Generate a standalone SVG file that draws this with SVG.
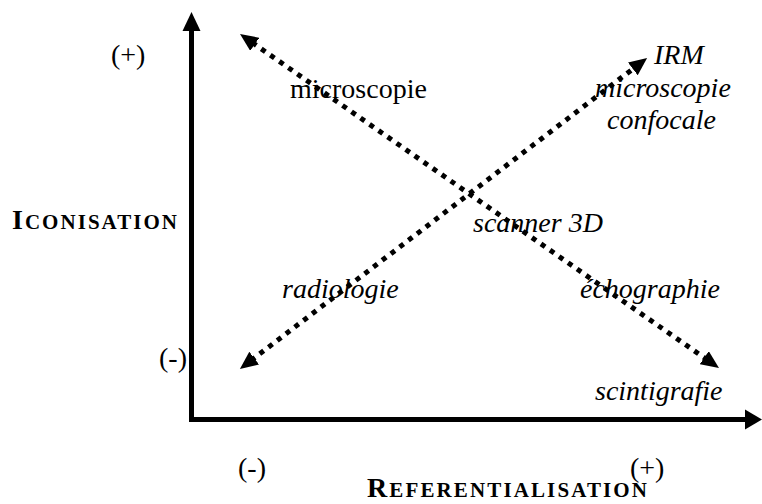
<svg xmlns="http://www.w3.org/2000/svg" width="762" height="504" viewBox="0 0 762 504">
  <style>
    text { font-family: 'Liberation Serif', 'Times New Roman', Times, serif; font-size: 28px; fill: #000; }
    .it { font-style: italic; }
    .b { font-weight: bold; }
    .sc { font-size: 21px; }
    .axis { stroke: #000; stroke-width: 5; fill: none; }
    .dot { stroke: #000; stroke-width: 5; stroke-dasharray: 5 6; fill: none; }
  </style>
  <defs>
    <marker id="dh" markerUnits="userSpaceOnUse" markerWidth="20" markerHeight="16" refX="4" refY="8" orient="auto-start-reverse">
      <path d="M0,0 L18,8 L0,16 Z" fill="#000"/>
    </marker>
  </defs>

  <g id="axes">
    <line class="axis" x1="191.5" y1="422" x2="191.5" y2="28"/>
    <path d="M191.5,12 L182.5,31 L200.5,31 Z" fill="#000"/>
    <line class="axis" x1="189" y1="419.5" x2="748" y2="419.5"/>
    <path d="M762,419.5 L745,409.5 L745,429.5 Z" fill="#000"/>
  </g>

  <g id="connectors">
    <line class="dot" x1="707.5" y1="360" x2="251.5" y2="42" marker-start="url(#dh)" marker-end="url(#dh)"/>
    <line class="dot" x1="251" y1="360.5" x2="636" y2="66.5" marker-start="url(#dh)" marker-end="url(#dh)"/>
  </g>

  <g id="n-plus-y"><text x="111" y="64">(+)</text></g>
  <g id="n-minus-y"><text x="159" y="367">(-)</text></g>
  <g id="n-minus-x"><text x="238" y="477">(-)</text></g>
  <g id="n-plus-x"><text x="630" y="477">(+)</text></g>

  <g id="n-iconisation">
    <text class="b" x="12" y="229" textLength="165" lengthAdjust="spacing">I<tspan class="sc">CONISATION</tspan></text>
  </g>
  <g id="n-referentialisation">
    <text class="b" x="367" y="497" textLength="280" lengthAdjust="spacing">R<tspan class="sc">EFERENTIALISATION</tspan></text>
  </g>

  <g id="n-microscopie"><text x="290" y="98">microscopie</text></g>
  <g id="n-irm">
    <text class="it" x="654" y="64">IRM</text>
    <text class="it" x="595" y="97">microscopie</text>
    <text class="it" x="607" y="129">confocale</text>
  </g>
  <g id="n-scanner"><text class="it" x="473" y="232">scanner 3D</text></g>
  <g id="n-radiologie"><text class="it" x="282" y="298">radiologie</text></g>
  <g id="n-echographie"><text class="it" x="580" y="298">échographie</text></g>
  <g id="n-scintigrafie"><text class="it" x="595" y="400">scintigrafie</text></g>
</svg>
